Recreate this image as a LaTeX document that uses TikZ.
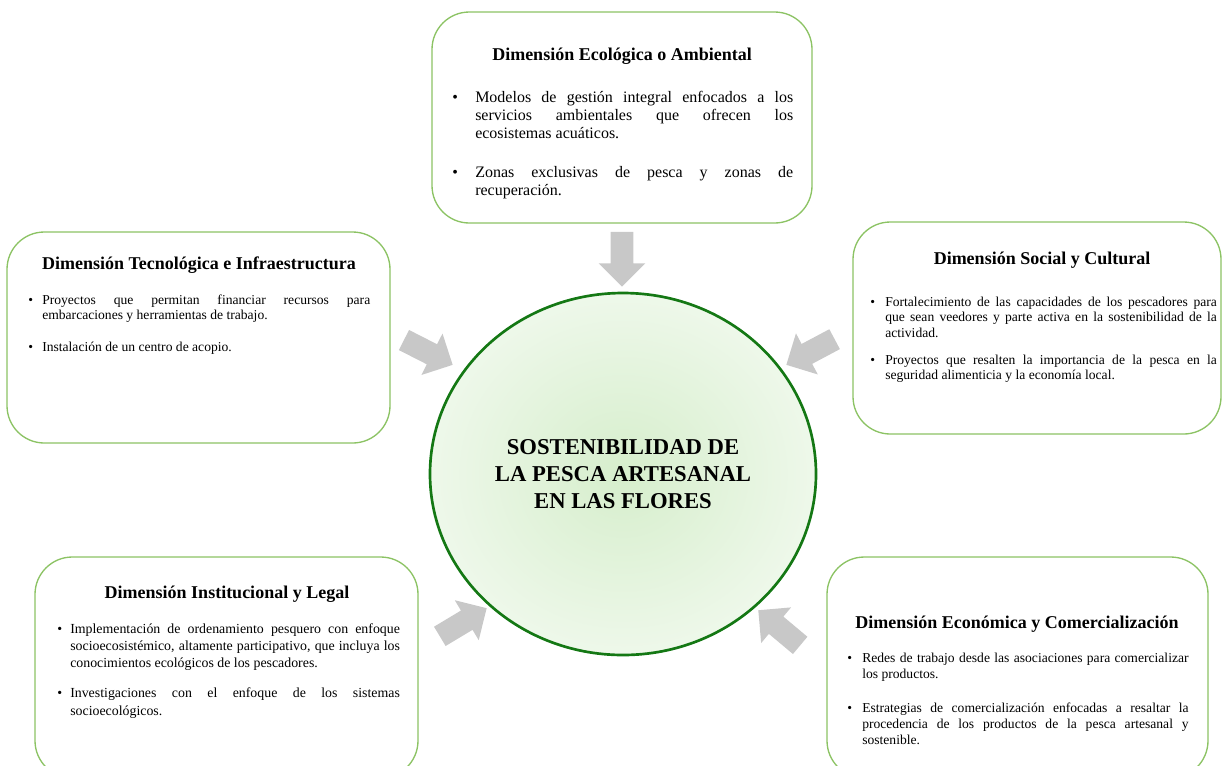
\documentclass[tikz,border=0pt]{standalone}
\usepackage{fontspec}
\setmainfont{Liberation Serif}
\usetikzlibrary{shapes.geometric, shapes.arrows}

\definecolor{boxgreen}{RGB}{140,195,100}
\definecolor{ringgreen}{RGB}{20,120,20}
\definecolor{coreinner}{RGB}{214,238,204}
\definecolor{coreouter}{RGB}{238,248,234}
\definecolor{arrowgray}{RGB}{200,200,200}

\hyphenpenalty=10000
\exhyphenpenalty=10000
\tolerance=9999
\emergencystretch=2em

\newlength\bhang
\newcommand\dimitem[1]{\noindent\hangindent=\bhang\hangafter=1\makebox[\bhang][l]{\textbullet}#1\par}

\begin{document}
\begin{tikzpicture}[x=0.75pt, y=-0.75pt,
    dimbox/.style={rectangle, draw=boxgreen, line width=1pt, rounded corners=28pt, fill=white, inner sep=0pt},
    dimtitle/.style={font=\bfseries\fontsize{13.5}{16}\selectfont, anchor=base, inner sep=0pt},
    dimbody/.style={anchor=base west, inner sep=0pt, align=justify, text width=#1},
    core/.style={ellipse, draw=ringgreen, line width=2pt, inner color=coreinner, outer color=coreouter, minimum width=289.5pt, minimum height=271.5pt, inner sep=0pt, align=center, font=\bfseries\fontsize{17}{20}\selectfont},
    pointer/.style={single arrow, fill=arrowgray, draw=none, inner sep=0pt, text height=8.25pt, text depth=8.25pt, single arrow head extend=9pt, minimum height=41pt, anchor=tip, rotate=#1}
]
    \useasboundingbox (0,0) rectangle (1223,765);
    \clip (0,0) rectangle (1223,765);

    % the five dimensions
    \node[dimbox, minimum width=285pt, minimum height=158.25pt] (eco) at (622,117.5) {};
    \node[dimbox, minimum width=287.25pt, minimum height=158.25pt] (tec) at (198.5,337.5) {};
    \node[dimbox, minimum width=276pt, minimum height=159pt] (soc) at (1037,328) {};
    \node[dimbox, minimum width=287.25pt, minimum height=165.75pt] (inst) at (226.5,667.5) {};
    \node[dimbox, minimum width=285.75pt, minimum height=165.75pt] (com) at (1017.5,667.5) {};

    \node[dimtitle] (ecoT) at (622,60) {Dimensión Ecológica o Ambiental};
    \node[dimtitle] (tecT) at (199,269) {Dimensión Tecnológica e Infraestructura};
    \node[dimtitle] (socT) at (1042,264) {Dimensión Social y Cultural};
    \node[dimtitle] (instT) at (227,598) {Dimensión Institucional y Legal};
    \node[dimtitle] (comT) at (1017,628) {Dimensión Económica y Comercialización};

    \node[dimbody=255.75pt] (ecoB) at (452,102) {\setlength\bhang{17.25pt}\fontsize{12}{13.8}\selectfont
        \dimitem{Modelos de gestión integral enfocados a los\linebreak servicios ambientales que ofrecen los\linebreak ecosistemas acuáticos.}
        \vspace{15pt}
        \dimitem{Zonas exclusivas de pesca y zonas de\linebreak recuperación.}};
    \node[dimbody=256.5pt] (tecB) at (28,304) {\setlength\bhang{10.5pt}\fontsize{10.2}{11.5}\selectfont
        \dimitem{Proyectos que permitan financiar recursos para embarcaciones y herramientas de trabajo.}
        \vspace{12.75pt}
        \dimitem{Instalación de un centro de acopio.}};
    \node[dimbody=260pt] (socB) at (870,306) {\setlength\bhang{11.25pt}\fontsize{10.2}{11.8}\selectfont
        \dimitem{Fortalecimiento de las capacidades de los pescadores para que sean veedores y parte activa en la sostenibilidad de la actividad.}
        \vspace{8.25pt}
        \dimitem{Proyectos que resalten la importancia de la pesca en la seguridad alimenticia y la economía local.}};
    \node[dimbody=257pt] (instB) at (57,633) {\setlength\bhang{9.75pt}\fontsize{10.4}{13.1}\selectfont
        \dimitem{Implementación de ordenamiento pesquero con enfoque socioecosistémico, altamente participativo, que incluya los conocimientos ecológicos de los pescadores.}
        \vspace{9.4pt}
        \dimitem{Investigaciones con el enfoque de los sistemas socioecológicos.}};
    \node[dimbody=256pt] (comB) at (847,662) {\setlength\bhang{11.25pt}\fontsize{10.2}{12}\selectfont
        \dimitem{Redes de trabajo desde las asociaciones para comercializar los productos.}
        \vspace{13.5pt}
        \dimitem{Estrategias de comercialización enfocadas a resaltar la procedencia de los productos de la pesca artesanal y sostenible.}};

    % centre
    \node[core] (core) at (623,474) {SOSTENIBILIDAD DE\\LA PESCA ARTESANAL\\EN LAS FLORES};

    % block arrows towards the centre
    \node[pointer=-90] (arrE) at (622,287) {};
    \node[pointer=-27] (arrT) at (453,365) {};
    \node[pointer=-152] (arrS) at (786,365) {};
    \node[pointer=31] (arrI) at (487,608) {};
    \node[pointer=140] (arrC) at (758,610) {};
\end{tikzpicture}
\end{document}
